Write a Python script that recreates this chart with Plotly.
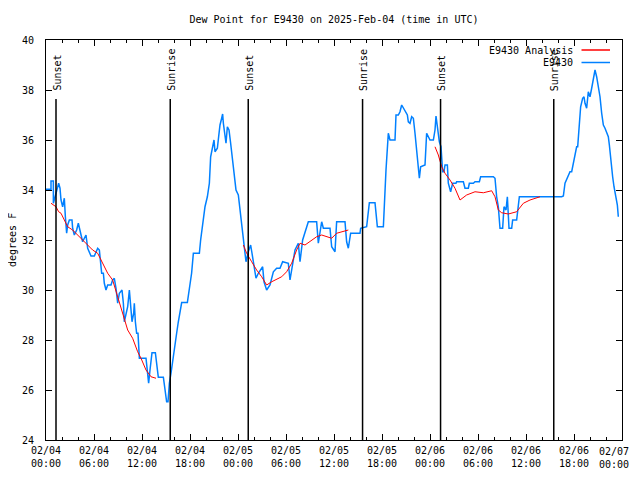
import plotly.graph_objects as go

# ---------------- data ----------------
title_text = "Dew Point for E9430 on 2025-Feb-04 (time in UTC)"
y_label = "degrees F"

# hours since 2025-02-04 00:00 UTC
obs_hours = [
    0, 0.625, 0.625, 0.92, 0.92, 1.25, 1.58, 1.75, 1.875, 2.08, 2.29, 2.42, 2.58, 2.71, 2.92, 3.25,
    3.33, 3.54, 3.83, 4.04, 4.17, 4.375, 4.58, 4.79, 5.0, 5.21, 5.42, 5.625, 6.04, 6.46, 6.67, 6.79,
    6.96, 7.17, 7.29, 7.5, 7.71, 8.125, 8.33, 8.54, 8.75, 8.96, 9.17, 9.5, 9.67, 9.79, 10.0, 10.21,
    10.42, 10.54, 10.75, 10.96, 11.04, 11.17, 11.33, 11.5, 11.67, 12.5, 12.71, 12.83, 13.0, 13.25,
    13.67, 13.83, 14.04, 14.67, 14.92, 15.08, 15.25, 15.42, 15.625, 15.83, 16.1, 16.33, 16.54, 16.75,
    16.96, 17.67, 17.92, 18.2, 18.42, 19.17, 19.33, 19.58, 19.875, 20.17, 20.42, 20.58, 20.83, 21.0,
    21.125, 21.42, 21.58, 21.75, 21.96, 22.08, 22.17, 22.375, 22.5, 22.67, 22.875, 23.08, 23.33,
    23.75, 24.04, 24.25, 24.46, 24.67, 24.875, 25.0, 25.29, 25.58, 25.75, 26.0, 26.25, 26.54, 26.83,
    27.08, 27.25, 27.58, 28.0, 28.42, 28.83, 29.25, 29.58, 30.29, 30.5, 30.83, 31.125, 31.54, 31.75,
    32.08, 32.375, 32.79, 33.83, 34.04, 34.46, 34.67, 35.5, 35.71, 36.125, 36.33, 37.375, 37.58,
    37.79, 38.08, 39.25, 39.33, 40.08, 40.42, 41.125, 41.42, 42.17, 42.375, 42.5, 42.79, 43.0,
    43.625, 43.75, 44.04, 44.25, 44.46, 44.67, 44.875, 45.17, 45.29, 45.5, 45.71, 45.92, 46.125,
    46.33, 46.54, 46.67, 46.83, 47.375, 47.58, 48.0, 48.42, 48.625, 48.75, 48.92, 49.17, 49.375,
    49.46, 49.58, 49.75, 49.875, 50.17, 50.29, 50.58, 50.83, 51.25, 51.33, 52.17, 52.375, 52.79,
    52.92, 53.42, 53.625, 54.17, 54.33, 55.92, 56.125, 56.33, 56.54, 56.75, 57.08, 57.25, 57.5,
    57.67, 57.75, 57.875, 58.21, 58.33, 58.83, 59.04, 59.17, 64.46, 64.67, 64.875, 65.5, 65.71,
    65.92, 66.33, 66.46, 66.67, 66.83, 67.08, 67.25, 67.375, 67.58, 67.79, 68.0, 68.21, 68.42,
    68.625, 68.83, 69.04, 69.25, 69.46, 69.67, 69.875, 70.08, 70.29, 70.42, 70.58, 70.71, 70.83,
    71.0, 71.25, 71.42, 71.54,
]
obs_values = [
    34.03, 34.03, 34.36, 34.36, 33.47, 33.87, 34.27, 34.07, 33.6, 33.33, 33.67, 32.93, 32.27, 32.6, 32.8, 32.8,
    32.47, 32.2, 32.4, 32.67, 32.47, 32.13, 31.93, 32.07, 32.2, 31.67, 31.47, 31.36, 31.36, 31.67, 31.6, 31.07,
    30.67, 30.67, 30.27, 30.0, 30.2, 30.2, 30.4, 30.47, 30.07, 29.47, 29.87, 30.0, 29.47, 28.73, 29.07, 29.33,
    30.0, 29.47, 28.73, 29.07, 29.47, 28.73, 28.27, 28.27, 27.27, 27.27, 26.67, 26.27, 26.8, 27.49,
    27.49, 26.93, 26.51, 26.51, 26.0, 25.53, 25.53, 26.27, 26.67, 27.2, 27.73, 28.27, 28.73, 29.2,
    29.5, 29.5, 30.13, 30.67, 31.47, 31.47, 32.0, 32.67, 33.33, 33.73, 34.27, 35.33, 35.73, 36.0,
    35.53, 35.67, 36.13, 36.6, 36.87, 37.04, 36.67, 36.13, 35.87, 36.53, 36.4, 35.87, 35.2,
    34.0, 33.8, 33.2, 32.53, 31.87, 31.33, 31.13, 31.53, 31.8, 31.47, 30.93, 30.47, 30.67, 30.8,
    30.93, 30.33, 30.0, 30.2, 30.73, 30.87, 30.87, 31.13, 31.07, 30.4, 31.07, 31.6, 31.87, 31.13,
    32.0, 32.27, 32.73, 32.73, 31.87, 32.73, 32.47, 32.47, 31.73, 31.53, 32.73, 32.73, 31.93,
    31.67, 32.27, 32.27, 32.47, 32.53, 33.49, 33.49, 32.53, 32.53, 34.0, 34.8, 36.27, 36.0,
    36.0, 37.0, 37.0, 37.13, 37.4, 37.27, 37.13, 37.0, 36.73, 36.67, 36.93, 36.87, 36.27,
    35.6, 35.07, 34.47, 34.93, 35.0, 36.27, 36.0, 36.0, 36.4, 36.96, 36.53, 35.93, 35.73,
    35.07, 34.73, 34.73, 35.0, 35.0, 34.27, 33.93, 34.27, 34.27, 34.33, 34.33, 34.07, 34.07,
    34.27, 34.27, 34.33, 34.33, 34.53, 34.53, 34.47, 33.73, 33.33, 32.47, 32.47, 33.33, 33.2,
    33.73, 32.93, 32.47, 32.47, 32.8, 32.8, 33.33, 33.73, 33.73, 33.76, 34.27, 34.73, 34.73, 35.07,
    35.73, 35.73, 36.53, 37.33, 37.67, 37.73, 37.47, 37.27, 37.93, 37.73, 38.07, 38.53, 38.8,
    38.53, 38.13, 37.73, 37.07, 36.6, 36.47, 36.27, 36.13, 35.8, 35.2, 34.87, 34.53, 34.13,
    33.73, 33.4, 32.93, 32.73,
]

# analysis series (None separates the three analysis periods)
ana_hours = [
    0.625, 1.25, 1.58, 1.875, 2.29, 2.71, 3.33, 3.96, 4.58, 5.21, 5.83, 6.46, 7.08, 7.71, 8.33, 8.96,
    9.58, 10.21, 10.83, 11.46, 11.875, 12.5, 13.125, 13.75, None,
    24.67, 25.08, 25.71, 26.33, 26.96, 27.58, 28.21, 28.83, 29.46, 30.08, 30.71, 31.33, 31.75, 32.375,
    33.0, 33.83, 34.46, 35.08, 35.71, 36.33, 37.17, 37.79, None,
    48.625, 49.04, 49.46, 49.875, 50.5, 51.125, 51.75, 52.58, 53.625, 54.67, 55.71, 56.125, 56.54,
    56.96, 57.79, 58.83, 59.67, 60.5, 61.75,
]
ana_values = [
    33.47, 33.33, 33.13, 33.07, 32.8, 32.53, 32.4, 32.2, 32.0, 31.8, 31.6, 31.47, 31.07, 30.67, 30.4, 29.73,
    29.07, 28.4, 28.07, 27.53, 27.27, 26.8, 26.53, 26.47, None,
    31.8, 31.47, 31.13, 30.8, 30.53, 30.2, 30.33, 30.43, 30.53, 30.73, 31.07, 31.6, 31.87, 31.8,
    31.93, 32.13, 32.2, 32.13, 32.07, 32.27, 32.33, 32.4, None,
    35.73, 35.4, 34.93, 34.67, 34.4, 34.07, 33.6, 33.8, 33.93, 33.89, 33.97, 33.73, 33.2,
    33.09, 33.04, 33.13, 33.47, 33.6, 33.73,
]

sun_hours = [1.25, 15.53, 25.28, 39.57, 49.32, 63.47]
sun_labels = ["Sunset", "Sunrise", "Sunset", "Sunrise", "Sunset", "Sunrise"]

x_tick_hours = [0, 6, 12, 18, 24, 30, 36, 42, 48, 54, 60, 66, 72]
x_tick_labels = [
    "02/04<br>00:00", "02/04<br>06:00", "02/04<br>12:00", "02/04<br>18:00",
    "02/05<br>00:00", "02/05<br>06:00", "02/05<br>12:00", "02/05<br>18:00",
    "02/06<br>00:00", "02/06<br>06:00", "02/06<br>12:00", "02/06<br>18:00",
    "02/07<br>00:00",
]
x_minor_hours = [h for h in range(0, 73, 2) if h % 6 != 0]
y_ticks = [24, 26, 28, 30, 32, 34, 36, 38, 40]

legend_names = ["E9430 Analysis", "E9430"]
RED = "#ff0000"
BLUE = "#0080ff"
FONT = "DejaVu Sans Mono"

# ---------------- figure ----------------
fig = go.Figure()
fig.add_trace(go.Scatter(x=obs_hours, y=obs_values, mode="lines", name=legend_names[1],
                         line=dict(color=BLUE, width=1.5), showlegend=False))
fig.add_trace(go.Scatter(x=ana_hours, y=ana_values, mode="lines", name=legend_names[0],
                         line=dict(color=RED, width=1), connectgaps=False, showlegend=False))

# page body adds an 8px offset; target plot area is x 46..622, y 40..440 in the window
OFF = 8
PL, PT, PW, PH = 46, 40, 576, 400
W, H = 640 - OFF, 480 - 2 * OFF
L, T = PL - OFF, PT - OFF
R, B = W - L - PW, H - T - PH


def px_to_paper_y(py):
    return (PT + PH - py) / PH


def px_to_paper_x(px):
    return (px - PL) / PW


shapes = []
annotations = []
line_top = px_to_paper_y(99)
for h, lab in zip(sun_hours, sun_labels):
    shapes.append(dict(type="line", xref="x", yref="paper", x0=h, x1=h, y0=0, y1=line_top,
                       line=dict(color="black", width=1.5)))
    annotations.append(dict(x=h, xref="x", y=px_to_paper_y(93), yref="paper", text=lab,
                            textangle=-90, showarrow=False, xanchor="center", yanchor="bottom",
                            xshift=1.5, font=dict(family=FONT, size=10, color="black")))

# legend (gnuplot style: text left, sample right)
for i, (name, col) in enumerate(zip(legend_names, [RED, BLUE])):
    py = 50 + i * 12.5
    annotations.append(dict(x=px_to_paper_x(575), xref="paper", y=px_to_paper_y(py), yref="paper",
                            text=name, showarrow=False, xanchor="right", yanchor="middle",
                            font=dict(family=FONT, size=10, color="black")))
    shapes.append(dict(type="line", xref="paper", yref="paper",
                       x0=px_to_paper_x(581.5), x1=px_to_paper_x(610),
                       y0=px_to_paper_y(py), y1=px_to_paper_y(py), line=dict(color=col, width=1.5)))

annotations.append(dict(x=px_to_paper_x(12), xref="paper", y=0.5, yref="paper", text=y_label,
                        textangle=-90, showarrow=False, xanchor="center", yanchor="middle",
                        font=dict(family=FONT, size=10, color="black")))

# the last x tick label would be clipped at the window edge: draw it right-aligned instead
shown_tick_labels = x_tick_labels[:-1] + [""]
annotations.append(dict(x=px_to_paper_x(631), xref="paper", y=0, yref="paper",
                        text=x_tick_labels[-1], showarrow=False, xanchor="right", yanchor="top",
                        yshift=-4, align="center", font=dict(family=FONT, size=10, color="black")))

fig.update_layout(
    width=W, height=H,
    margin=dict(l=L, r=R, t=T, b=B, pad=0, autoexpand=False),
    paper_bgcolor="white", plot_bgcolor="white",
    font=dict(family=FONT, size=10, color="black"),
    title=dict(text=title_text, x=px_to_paper_x(334), xref="paper", xanchor="center",
               y=1 - (19 - OFF) / H, yanchor="middle", font=dict(family=FONT, size=10, color="black")),
    shapes=shapes, annotations=annotations, showlegend=False,
    xaxis=dict(range=[0, 72], tickmode="array", tickvals=x_tick_hours, ticktext=shown_tick_labels,
               ticks="inside", ticklen=6, tickcolor="black", showline=True, linecolor="black",
               linewidth=1, mirror="allticks", showgrid=False, zeroline=False, automargin=False,
               ticklabelstandoff=1,
               minor=dict(tickmode="array", tickvals=x_minor_hours, ticks="inside", ticklen=3,
                          tickcolor="black", showgrid=False),
               tickfont=dict(family=FONT, size=10, color="black")),
    yaxis=dict(range=[24, 40], tickmode="array", tickvals=y_ticks, ticks="inside", ticklen=6,
               tickcolor="black", showline=True, linecolor="black", linewidth=1, mirror="allticks",
               showgrid=False, zeroline=False, ticklabelstandoff=9, automargin=False,
               tickfont=dict(family=FONT, size=10, color="black")),
)

fig.write_html("out.html")
